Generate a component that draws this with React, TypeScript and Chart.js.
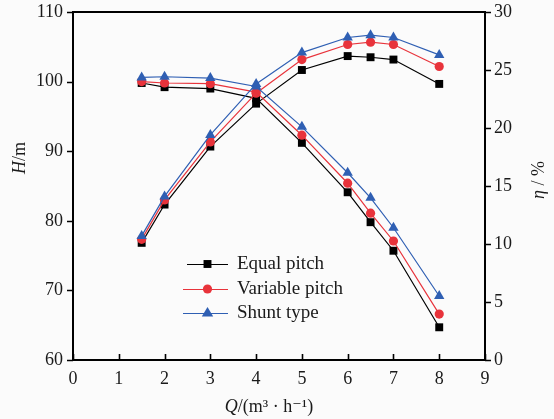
import React, { useEffect, useRef } from "react";
import { Chart, registerables } from "chart.js";

Chart.register(...registerables);

const flowQ = [1.5, 2, 3, 4, 5, 6, 6.5, 7, 8];

const equalH = [99.8, 99.2, 99.0, 97.6, 91.2, 84.1, 79.8, 75.7, 64.7];
const variableH = [100.0, 99.8, 99.7, 98.5, 92.3, 85.4, 81.1, 77.1, 66.6];
const shuntH = [100.6, 100.7, 100.5, 99.3, 93.5, 86.9, 83.3, 79.0, 69.2];

const equalEta = [10.1, 13.4, 18.4, 22.1, 25.0, 26.2, 26.1, 25.9, 23.8];
const variableEta = [10.4, 13.8, 18.8, 23.0, 25.9, 27.2, 27.4, 27.2, 25.3];
const shuntEta = [10.7, 14.1, 19.4, 23.8, 26.5, 27.8, 28.0, 27.8, 26.3];

const seriesNames = ["Equal pitch", "Variable pitch", "Shunt type"];
const xTicks = [0, 1, 2, 3, 4, 5, 6, 7, 8, 9];
const hTicks = [60, 70, 80, 90, 100, 110];
const etaTicks = [0, 5, 10, 15, 20, 25, 30];

const COLORS = ["#000000", "#e8333b", "#2f5fb3"];
const STYLES = ["rect", "circle", "triangle"];
const RADII = [5.6, 4.6, 6];
const FONT = "'Liberation Serif', 'DejaVu Serif', serif";
const TEXT = "#1a1a1a";

const pts = (ys: number[]) => flowQ.map((x, i) => ({ x, y: ys[i] }));

function drawMarker(ctx: CanvasRenderingContext2D, style: string, x: number, y: number, r: number, color: string) {
  ctx.save();
  ctx.fillStyle = color;
  ctx.beginPath();
  if (style === "rect") {
    const s = r * Math.SQRT1_2;
    ctx.rect(x - s, y - s, 2 * s, 2 * s);
  } else if (style === "circle") {
    ctx.arc(x, y, r, 0, Math.PI * 2);
  } else {
    ctx.moveTo(x, y - r);
    ctx.lineTo(x + r * 0.95, y + r * 0.6);
    ctx.lineTo(x - r * 0.95, y + r * 0.6);
    ctx.closePath();
  }
  ctx.fill();
  ctx.restore();
}

const framePlugin = {
  id: "framePlugin",
  afterDraw(chart: any) {
    const { ctx, chartArea } = chart;
    const { left, right, top, bottom } = chartArea;
    const xs = chart.scales.x;
    const yl = chart.scales.y;
    const yr = chart.scales.y2;
    ctx.save();
    ctx.strokeStyle = "#000";
    ctx.lineWidth = 2;
    ctx.strokeRect(left, top, right - left, bottom - top);
    ctx.lineWidth = 1.6;
    ctx.beginPath();
    xTicks.forEach((v) => {
      const px = Math.round(xs.getPixelForValue(v)) + 0.5;
      ctx.moveTo(px, bottom);
      ctx.lineTo(px, bottom - 6);
    });
    hTicks.forEach((v) => {
      const py = Math.round(yl.getPixelForValue(v)) + 0.5;
      ctx.moveTo(left, py);
      ctx.lineTo(left - 6, py);
    });
    etaTicks.forEach((v) => {
      const py = Math.round(yr.getPixelForValue(v)) + 0.5;
      ctx.moveTo(right, py);
      ctx.lineTo(right + 6, py);
    });
    ctx.stroke();

    ctx.fillStyle = TEXT;
    ctx.textBaseline = "middle";
    // left title H/m
    ctx.save();
    ctx.translate(20, 158);
    ctx.rotate(-Math.PI / 2);
    ctx.font = `italic 18px ${FONT}`;
    const wH = ctx.measureText("H").width;
    ctx.font = `18px ${FONT}`;
    const wM = ctx.measureText("/m").width;
    const sx = -(wH + wM) / 2;
    ctx.textAlign = "left";
    ctx.font = `italic 18px ${FONT}`;
    ctx.fillText("H", sx, 0);
    ctx.font = `18px ${FONT}`;
    ctx.fillText("/m", sx + wH, 0);
    ctx.restore();

    // right title
    ctx.save();
    ctx.translate(539, 180);
    ctx.rotate(-Math.PI / 2);
    ctx.textAlign = "left";
    ctx.font = `italic 18px ${FONT}`;
    const wEta = ctx.measureText("η").width;
    ctx.font = `18px ${FONT}`;
    const wPct = ctx.measureText(" / %").width;
    const ex = -(wEta + wPct) / 2;
    ctx.font = `italic 18px ${FONT}`;
    ctx.fillText("η", ex, 0);
    ctx.font = `18px ${FONT}`;
    ctx.fillText(" / %", ex + wEta, 0);
    ctx.restore();

    // bottom title
    ctx.save();
    ctx.textAlign = "left";
    ctx.font = `italic 18px ${FONT}`;
    const wQ = ctx.measureText("Q").width;
    ctx.font = `18px ${FONT}`;
    const rest = "/(m³ · h⁻¹)";
    const wR = ctx.measureText(rest).width;
    const cx = 269;
    const by = 407;
    const bx = cx - (wQ + wR) / 2;
    ctx.font = `italic 18px ${FONT}`;
    ctx.fillText("Q", bx, by);
    ctx.font = `18px ${FONT}`;
    ctx.fillText(rest, bx + wQ, by);
    ctx.restore();

    // legend
    const lx0 = left + 114;
    const lx1 = left + 155;
    const ys = [264, 289, 313];
    seriesNames.forEach((name, i) => {
      const y = ys[i];
      ctx.strokeStyle = COLORS[i];
      ctx.lineWidth = 1.2;
      ctx.beginPath();
      ctx.moveTo(lx0 - (i === 0 ? 0 : 4), y + 0.5);
      ctx.lineTo(lx1, y + 0.5);
      ctx.stroke();
      drawMarker(ctx, STYLES[i], (lx0 + lx1) / 2, y, RADII[i], COLORS[i]);
      ctx.fillStyle = TEXT;
      ctx.textAlign = "left";
      ctx.textBaseline = "middle";
      ctx.font = `19px ${FONT}`;
      ctx.fillText(name, lx1 + 9, y);
    });
    ctx.restore();
  },
};

export default function App() {
  const ref = useRef<HTMLCanvasElement | null>(null);
  useEffect(() => {
    if (!ref.current) return;
    const hSets = [equalH, variableH, shuntH];
    const eSets = [equalEta, variableEta, shuntEta];
    const datasets: any[] = [];
    [0, 1, 2].forEach((i) => {
      const common = {
        borderColor: COLORS[i],
        backgroundColor: COLORS[i],
        pointBackgroundColor: COLORS[i],
        pointBorderColor: COLORS[i],
        pointBorderWidth: 0,
        pointStyle: STYLES[i],
        pointRadius: RADII[i],
        borderWidth: 1.2,
        tension: 0,
        fill: false,
        order: 2 - i,
      };
      datasets.push({ ...common, label: seriesNames[i] + " H", data: pts(hSets[i]), yAxisID: "y" });
      datasets.push({ ...common, label: seriesNames[i] + " η", data: pts(eSets[i]), yAxisID: "y2" });
    });
    const tickFont = { family: FONT, size: 18 };
    const yTickFont = { family: FONT, size: 18, lineHeight: 0.2 };
    const chart = new Chart(ref.current, {
      type: "line",
      data: { datasets },
      options: {
        animation: false,
        responsive: false,
        maintainAspectRatio: false,
        layout: { padding: { top: 12, left: 0, right: 0, bottom: 0 } },
        plugins: { legend: { display: false }, tooltip: { enabled: false } },
        scales: {
          x: {
            type: "linear",
            min: 0,
            max: 9,
            grid: { display: false, drawTicks: false },
            border: { display: false },
            ticks: { stepSize: 1, font: tickFont, color: TEXT, padding: 8, maxRotation: 0 },
            afterFit: (s: any) => {
              s.height = 59;
            },
          },
          y: {
            type: "linear",
            position: "left",
            min: 60,
            max: 110,
            grid: { display: false, drawTicks: false },
            border: { display: false },
            ticks: { stepSize: 10, font: yTickFont, color: TEXT, padding: 10 },
            afterFit: (s: any) => {
              s.width = 73;
            },
          },
          y2: {
            type: "linear",
            position: "right",
            min: 0,
            max: 30,
            grid: { display: false, drawTicks: false },
            border: { display: false },
            ticks: { stepSize: 5, font: yTickFont, color: TEXT, padding: 9 },
            afterFit: (s: any) => {
              s.width = 69;
            },
          },
        },
      } as any,
      plugins: [framePlugin],
    });
    return () => chart.destroy();
  }, []);
  return (
    <div style={{ position: "fixed", left: 0, top: 0, width: 554, height: 419, background: "#fbfbfb" }}>
      <canvas ref={ref} width={554} height={419} style={{ display: "block", width: 554, height: 419 }} />
    </div>
  );
}
